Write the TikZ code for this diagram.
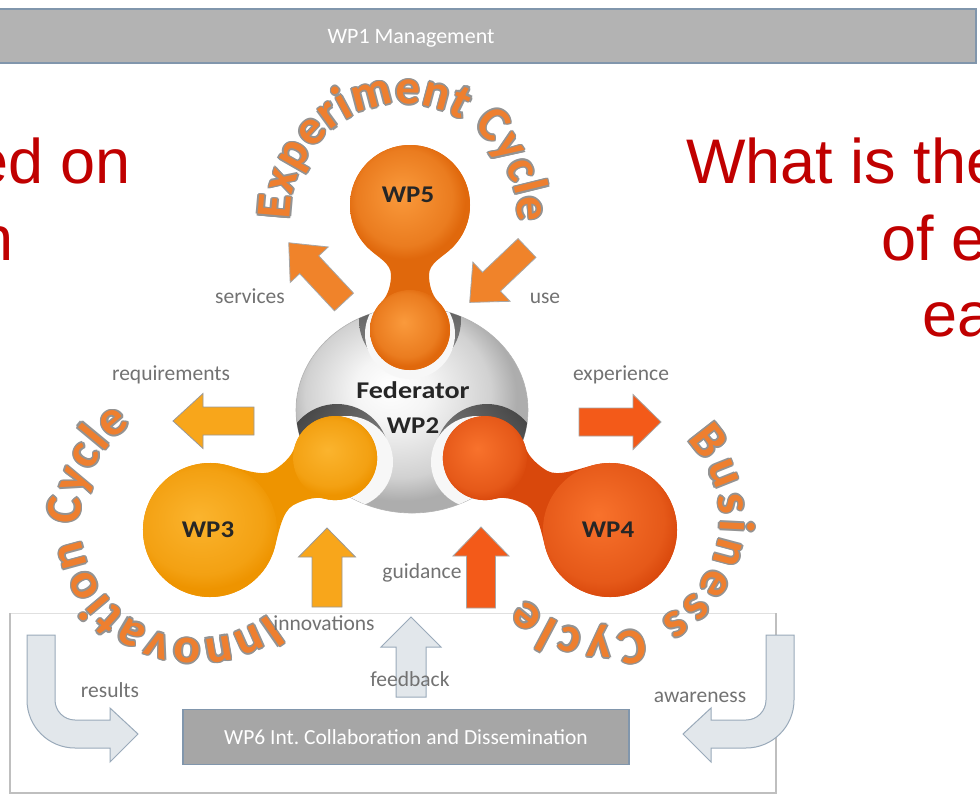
\documentclass[tikz,border=0pt]{standalone}
\usepackage{fontspec}
\setmainfont{Carlito}
\newfontfamily\redfont{Liberation Sans}
\newfontfamily\arcin{Carlito}[UprightFont={* Bold}]
\usetikzlibrary{decorations.text}
\definecolor{slidered}{HTML}{C00000}
\definecolor{bargray}{HTML}{B3B3B3}
\definecolor{barblue}{HTML}{8196AC}
\definecolor{wpsixgray}{HTML}{A6A6A6}
\definecolor{lblgray}{HTML}{727272}
\definecolor{arcorange}{HTML}{EE7F2F}
\definecolor{arcgray}{HTML}{939393}
\definecolor{arrorange}{HTML}{F0832A}
\definecolor{arramber}{HTML}{F8A61B}
\definecolor{arrred}{HTML}{F35A19}
\definecolor{arrlight}{HTML}{E2E7EB}
\definecolor{arrlightedge}{HTML}{9AAABA}
\definecolor{fivelight}{HTML}{FA9A3C}
\definecolor{fivedark}{HTML}{E0680C}
\definecolor{threelight}{HTML}{FBB42E}
\definecolor{threedark}{HTML}{EE9400}
\definecolor{fourlight}{HTML}{F8722C}
\definecolor{fourdark}{HTML}{D9480C}
\pgfdeclareradialshading{fiveshade}{\pgfpoint{-4bp}{5bp}}{color(0bp)=(fivelight); color(20bp)=(fivelight!40!fivedark); color(25bp)=(fivedark); color(50bp)=(fivedark)}
\pgfdeclareradialshading{threeshade}{\pgfpoint{-4bp}{5bp}}{color(0bp)=(threelight); color(20bp)=(threelight!40!threedark); color(25bp)=(threedark); color(50bp)=(threedark)}
\pgfdeclareradialshading{fourshade}{\pgfpoint{-4bp}{5bp}}{color(0bp)=(fourlight); color(20bp)=(fourlight!40!fourdark); color(25bp)=(fourdark); color(50bp)=(fourdark)}
\pgfdeclareradialshading{fedshade}{\pgfpoint{-5bp}{6bp}}{color(0bp)=(white); color(8bp)=(white!96!black); color(20bp)=(black!18); color(25bp)=(black!32); color(50bp)=(black!32)}

% block arrow: tail x, tail y, angle, length, body width, head width, head length, style
\newcommand\barrow[8]{%
  \begin{scope}[shift={(#1,#2)}, rotate=#3]
    \path[#8] (0,-#5/2) -- (#4-#7,-#5/2) -- (#4-#7,-#6/2) -- (#4,0)
      -- (#4-#7,#6/2) -- (#4-#7,#5/2) -- (0,#5/2) -- cycle;
  \end{scope}}

% blob: head x, head y, angle, head r, distance, ball r, waist pos, waist half width, colour prefix
\newcommand\blob[9]{%
  \pgfmathsetmacro\bph{#4*0.7071}%
  \pgfmathsetmacro\bbx{#5-#6*0.7071}%
  \pgfmathsetmacro\bby{#6*0.7071}%
  \pgfmathsetmacro\bka{#4*0.17}%
  \pgfmathsetmacro\bkb{#6*0.18}%
  \begin{scope}[shift={(#1,#2)}, rotate=#3]
    \fill[#9dark] (\bph,\bph) .. controls +(\bka,-\bka) and +(-12,0) .. (#7,#8)
      .. controls +(8,0) and +(-\bkb,-\bkb) .. (\bbx,\bby)
      arc[start angle=135, end angle=-135, radius=#6]
      .. controls +(-\bkb,\bkb) and +(8,0) .. (#7,-#8)
      .. controls +(-12,0) and +(\bka,\bka) .. (\bph,-\bph)
      arc[start angle=-45, end angle=-315, radius=#4] -- cycle;
    \shade[shading=#9shade] (0,0) circle[radius=#4];
    \shade[shading=#9shade] (#5,0) circle[radius=#6];
  \end{scope}}

% text on an arc with a grey outline: cx, cy, r, start, end, size, text
\newcommand\arctext[7]{%
  \foreach \odx/\ody in {1.6/0, -1.6/0, 0/1.6, 0/-1.6, 1.15/1.15, -1.15/1.15, 1.15/-1.15, -1.15/-1.15}{%
    \path[decorate, decoration={text along path, text align={fit to path},
      text={|\arcin\fontsize{#6}{#6}\selectfont\color{arcgray}|#7}}]
      (#1+\odx,#2+\ody) ++(#4:#3) arc[start angle=#4, end angle=#5, radius=#3];
  }%
  \path[decorate, decoration={text along path, text align={fit to path},
    text={|\arcin\fontsize{#6}{#6}\selectfont\color{arcorange}|#7}}]
    (#1,#2) ++(#4:#3) arc[start angle=#4, end angle=#5, radius=#3];
}

\tikzset{
  lbl/.style={font=\fontsize{21.5}{25}\selectfont, text=lblgray, inner sep=0, anchor=base},
  wplbl/.style={font=\fontsize{24}{28}\selectfont\bfseries, text=black!85, inner sep=0, anchor=base},
  redtxt/.style={font=\redfont\fontsize{63}{70}\selectfont, text=slidered, inner sep=0},
  arrA/.style={fill=arramber, draw=black!40, line width=0.8},
  arrO/.style={fill=arrorange, draw=black!35, line width=0.8},
  arrR/.style={fill=arrred, draw=black!35, line width=0.8},
  arrL/.style={fill=arrlight, draw=arrlightedge, line width=1},
  sockdark/.style={top color=black!72, bottom color=black!45},
  sockwhite/.style={fill=white!97!black},
}

\begin{document}
\begin{tikzpicture}[x=1pt, y=-1pt]
\useasboundingbox (0,0) rectangle (980,798);
\fill[white] (0,0) rectangle (980,798);
\clip (0,0) rectangle (980,798);

% top bar
\path[fill=bargray, draw=barblue, line width=1.5] (-5,9) rectangle (976,63);
\node[font=\fontsize{22}{26}\selectfont, text=white, inner sep=0, anchor=base] (wp1) at (411,43) {WP1 Management};

% slide text (cut off)
\node[redtxt, anchor=base east] (redA) at (131,183) {ed on};
\node[redtxt, anchor=base east] (redB) at (14,260) {n};
\node[redtxt, anchor=base west] (redC) at (686,183) {What is the};
\node[redtxt, anchor=base west] (redD) at (881,260) {of e};
\node[redtxt, anchor=base west] (redE) at (922,336) {ea};

% bottom frame
\draw[black!12, line width=1] (10,613) -- (776,613);
\draw[black!25, line width=1.2] (10,613) -- (10,793) -- (776,793) -- (776,613);

% curved cycle names
\arctext{404}{218}{114}{179}{362}{49}{Experiment Cycle}
\arctext{197}{522}{117}{52}{236}{50}{Innovation Cycle}
\arctext{607}{520}{113}{-45}{136}{50}{Business Cycle}

% block arrows
\barrow{344}{302}{133}{81}{26}{52}{30}{arrO}
\barrow{527}{248}{223.5}{79}{26}{54}{30}{arrO}
\barrow{254}{421}{180}{81}{28}{55}{30}{arrA}
\barrow{579}{422}{0}{82}{28}{55}{28}{arrR}
\barrow{327}{607}{90}{79}{30}{57}{29}{arrA}
\barrow{481}{608}{90}{81}{29}{56}{29}{arrR}
\barrow{411}{697}{90}{80}{30}{60}{30}{arrL}

% bent arrows
\path[arrL] (27,635) -- (55,635) -- (55,700) arc[start angle=180, end angle=90, radius=20]
  -- (110,720) -- (110,708) -- (138,734) -- (110,762) -- (110,748) -- (75,748)
  arc[start angle=90, end angle=180, radius=48] -- cycle;
\path[arrL] (794,635) -- (766,635) -- (766,700) arc[start angle=0, end angle=90, radius=20]
  -- (711,720) -- (711,708) -- (683,734) -- (711,762) -- (711,748) -- (746,748)
  arc[start angle=90, end angle=0, radius=48] -- cycle;

% federator sphere
\shade[shading=fedshade] (412,410) ellipse[x radius=116, y radius=103];
\draw[black!30, line width=0.6] (412,410) ellipse[x radius=116, y radius=103];
\begin{scope}
  \clip (412,410) ellipse[x radius=116, y radius=103];
  \shade[sockdark] (410,320) circle[radius=51];
  \fill[sockwhite] (410,334) circle[radius=45];
  \shade[sockdark, shading angle=50] (337,456) circle[radius=52];
  \fill[sockwhite] (347,462) circle[radius=46];
  \shade[sockdark, shading angle=-50] (487,456) circle[radius=52];
  \fill[sockwhite] (477,462) circle[radius=46];
\end{scope}

% blobs
\blob{410}{205}{-90}{60}{125}{40}{70}{19}{five}
\blob{210}{530}{29.9}{67}{144.3}{42}{84}{20}{three}
\blob{610}{530}{150.1}{67}{144.3}{42}{84}{20}{four}

% texts on shapes
\node[wplbl] (fed) at (413,398) {\scalebox{1.17}[1]{Federator}};
\node[wplbl] (wp2) at (413,433) {\scalebox{1.12}[1]{WP2}};
\node[wplbl] (wp5) at (408,202) {\scalebox{1.12}[1]{WP5}};
\node[wplbl] (wp3) at (208,537) {\scalebox{1.12}[1]{WP3}};
\node[wplbl] (wp4) at (608,537) {\scalebox{1.12}[1]{WP4}};

% WP6 box
\node[fill=wpsixgray, draw=barblue, line width=1.2, minimum width=446, minimum height=55, inner sep=0,
  font=\fontsize{21.5}{24}\selectfont, text=white] (wp6) at (406,737) {WP6 Int.\ Collaboration and Dissemination};

% labels
\node[lbl] (services) at (250,303) {services};
\node[lbl] (use) at (545,303) {use};
\node[lbl] (requirements) at (171,380) {requirements};
\node[lbl] (experience) at (621,380) {experience};
\node[lbl] (guidance) at (422,578) {guidance};
\node[lbl] (innovations) at (324,630) {innovations};
\node[lbl] (feedback) at (410,686) {feedback};
\node[lbl] (results) at (110,697) {results};
\node[lbl] (awareness) at (700,702) {awareness};
\end{tikzpicture}
\end{document}
